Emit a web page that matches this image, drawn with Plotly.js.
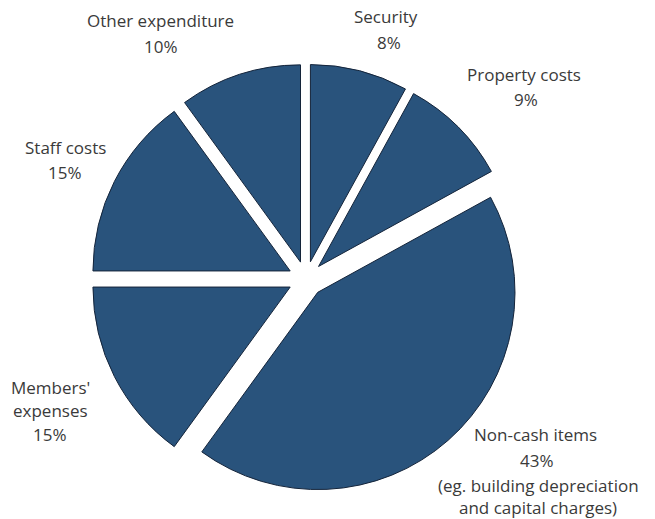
<!DOCTYPE html>
<html>
<head>
<meta charset="utf-8">
<script src="https://cdn.plot.ly/plotly-3.0.1.min.js"></script>
<style>
html,body{margin:0;padding:0;background:#fff;}
#chart{width:655px;height:519px;}
</style>
</head>
<body>
<div id="chart"></div>
<script>
// Data
const labels = ["Security", "Property costs", "Non-cash items", "Members' expenses", "Staff costs", "Other expenditure"];
const values = [8, 9, 43, 15, 15, 10];
const labelLines = [["Security"], ["Property costs"], ["Non-cash items"], ["Members'", "expenses"], ["Staff costs"], ["Other expenditure"]];
const notes = [[], [], ["(eg. building depreciation", "and capital charges)"], [], [], []];

// Layout geometry (pixels)
const W = 655, H = 519;
const M = {l: 91, r: 134, t: 64, b: 25};
const PW = W - M.l - M.r, PH = H - M.t - M.b;
// label line centres in pixels, per slice (one entry per rendered line)
const labelPos = [
  [[386, 17], [389, 42]],
  [[524, 75], [526, 100]],
  [[535, 434], [537, 460], [538, 485], [538, 507]],
  [[50, 387], [50, 410], [50, 434]],
  [[65, 147], [65, 172]],
  [[160, 21], [161, 46]]
];

const annotations = [];
labels.forEach((lab, i) => {
  const lines = labelLines[i].concat([values[i] + "%"]).concat(notes[i]);
  lines.forEach((t, j) => {
    const p = labelPos[i][j];
    annotations.push({
      text: t, xref: "paper", yref: "paper",
      x: (p[0] - M.l) / PW, y: (H - M.b - p[1]) / PH,
      xanchor: "center", yanchor: "middle", showarrow: false,
      font: {family: "Open Sans", size: 17, color: "#3a3a3a"}
    });
  });
});

const trace = {
  type: "pie",
  labels: labels,
  values: values,
  sort: false,
  direction: "clockwise",
  rotation: 0,
  pull: values.map(() => 0.09),
  textinfo: "none",
  hoverinfo: "label+percent",
  marker: {colors: values.map(() => "#29537c"), line: {color: "#14243a", width: 1}},
  domain: {x: [0, 1], y: [0, 1]}
};

const layout = {
  width: W, height: H,
  margin: M,
  showlegend: false,
  paper_bgcolor: "#ffffff",
  plot_bgcolor: "#ffffff",
  annotations: annotations
};

Plotly.newPlot("chart", [trace], layout, {displayModeBar: false, staticPlot: true});
</script>
</body>
</html>
